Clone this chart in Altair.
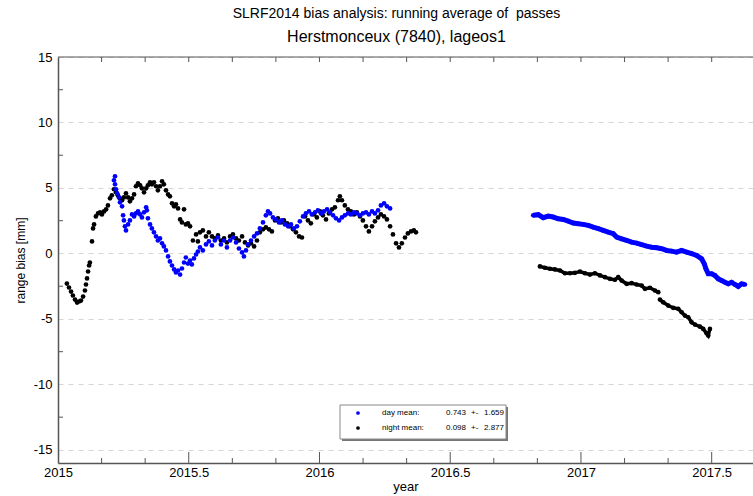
import altair as alt
import pandas as pd

FONT = "Liberation Sans"
AXC = "#555555"

# ---------------- data (decimal year, range bias in mm) ----------------
night_year_1 = [
    2015.034, 2015.042, 2015.050, 2015.057, 2015.065, 2015.073, 2015.080, 2015.088, 2015.096, 2015.103,
    2015.107, 2015.111, 2015.115, 2015.119, 2015.122, 2015.130, 2015.134, 2015.138, 2015.145, 2015.153,
    2015.161, 2015.168, 2015.176, 2015.184, 2015.191, 2015.199, 2015.206, 2015.214, 2015.222, 2015.229,
    2015.237, 2015.245, 2015.252, 2015.260, 2015.268, 2015.275, 2015.283, 2015.291, 2015.298, 2015.306,
    2015.314, 2015.321, 2015.329, 2015.337, 2015.344, 2015.352, 2015.359, 2015.367, 2015.375, 2015.382,
    2015.390, 2015.398, 2015.405, 2015.413, 2015.421, 2015.428, 2015.436, 2015.444, 2015.451, 2015.459,
    2015.467, 2015.474, 2015.482, 2015.489, 2015.497, 2015.505, 2015.516, 2015.528, 2015.535, 2015.543,
    2015.554, 2015.566, 2015.577, 2015.589, 2015.600, 2015.612, 2015.623, 2015.635, 2015.646, 2015.658,
    2015.669, 2015.681, 2015.692, 2015.704, 2015.715, 2015.727, 2015.738, 2015.750, 2015.761, 2015.772,
    2015.784, 2015.795, 2015.807, 2015.818, 2015.830, 2015.841, 2015.853, 2015.864, 2015.876, 2015.887,
    2015.899, 2015.910, 2015.922, 2015.933, 2015.945, 2015.956, 2015.967, 2015.979, 2015.990, 2016.002,
    2016.013, 2016.025, 2016.036, 2016.048, 2016.059, 2016.071, 2016.078, 2016.086, 2016.097, 2016.109,
    2016.120, 2016.132, 2016.143, 2016.155, 2016.166, 2016.178, 2016.189, 2016.201, 2016.212, 2016.224,
    2016.235, 2016.247, 2016.258, 2016.270, 2016.281, 2016.293, 2016.304, 2016.315, 2016.327, 2016.338,
    2016.350, 2016.361, 2016.369,
]
night_bias_1 = [
    -2.30, -2.60, -2.91, -3.21, -3.52, -3.75, -3.67, -3.60, -3.29, -2.83,
    -2.37, -1.91, -1.38, -0.92, -0.69, 0.92, 1.91, 2.22, 2.83, 3.06,
    3.14, 2.98, 3.21, 3.37, 3.67, 4.21, 4.44, 4.90, 4.67, 4.44,
    4.21, 4.06, 4.28, 4.59, 4.28, 3.98, 4.21, 4.51, 5.13, 5.36,
    5.20, 4.97, 4.67, 4.97, 5.20, 5.43, 5.28, 5.43, 5.13, 4.82,
    5.13, 5.51, 5.28, 4.82, 4.51, 4.36, 3.83, 3.60, 3.75, 3.44,
    2.60, 2.37, 3.37, 2.22, 2.30, 2.07, 0.99, 1.45, 0.92, 1.61,
    1.76, 1.30, 1.61, 1.30, 1.15, 1.38, 0.99, 1.15, 0.84, 1.30,
    1.45, 1.15, 0.99, 1.30, 0.84, 0.61, 0.77, 0.54, 0.99, 1.61,
    1.84, 1.99, 1.84, 1.68, 2.52, 2.68, 2.37, 2.52, 2.30, 2.07,
    1.84, 1.61, 1.30, 1.22, 2.83, 2.52, 2.30, 2.98, 2.75, 3.21,
    2.91, 2.60, 3.06, 3.37, 3.52, 4.06, 4.36, 4.06, 3.67, 3.37,
    3.21, 2.98, 3.14, 2.83, 2.52, 2.07, 1.68, 2.07, 2.45, 2.75,
    2.98, 2.83, 2.60, 2.07, 1.45, 0.77, 0.46, 0.77, 1.22, 1.53,
    1.68, 1.76, 1.61,
]
night_year_2 = [
    2016.8432, 2016.8623, 2016.8814, 2016.9005, 2016.9197, 2016.9388, 2016.9579, 2016.9770, 2016.9962,
    2017.0153, 2017.0344, 2017.0535, 2017.0726, 2017.0917, 2017.1109, 2017.1300, 2017.1426, 2017.1556,
    2017.1747, 2017.1938, 2017.2129, 2017.2321, 2017.2447, 2017.2638, 2017.2830, 2017.2956,
]
night_bias_2 = [
    -0.99, -1.09, -1.17, -1.22, -1.30, -1.51, -1.51, -1.48, -1.38,
    -1.51, -1.61, -1.51, -1.68, -1.81, -1.94, -2.01, -1.81, -2.07,
    -2.32, -2.27, -2.37, -2.45, -2.70, -2.62, -2.83, -2.96,
]
night_year_3 = [
    2017.3021, 2017.3147, 2017.3338, 2017.3529, 2017.3721, 2017.3851, 2017.3977, 2017.4103,
    2017.4233, 2017.4359, 2017.4550, 2017.4676, 2017.4806, 2017.4868, 2017.4933,
]
night_bias_3 = [
    -3.52, -3.73, -3.98, -4.15, -4.23, -4.49, -4.74, -4.87,
    -5.26, -5.43, -5.59, -5.76, -6.10, -6.27, -5.76,
]
day_year_1 = [
    2015.214, 2015.218, 2015.218, 2015.222, 2015.226, 2015.233, 2015.237, 2015.245, 2015.249, 2015.252,
    2015.256, 2015.260, 2015.268, 2015.275, 2015.283, 2015.291, 2015.298, 2015.306, 2015.314, 2015.321,
    2015.329, 2015.337, 2015.340, 2015.344, 2015.352, 2015.359, 2015.367, 2015.375, 2015.382, 2015.390,
    2015.398, 2015.405, 2015.413, 2015.421, 2015.428, 2015.436, 2015.444, 2015.451, 2015.459, 2015.467,
    2015.474, 2015.482, 2015.489, 2015.497, 2015.505, 2015.512, 2015.520, 2015.528, 2015.535, 2015.543,
    2015.554, 2015.566, 2015.577, 2015.589, 2015.600, 2015.612, 2015.623, 2015.635, 2015.646, 2015.658,
    2015.669, 2015.681, 2015.692, 2015.704, 2015.711, 2015.719, 2015.727, 2015.738, 2015.750, 2015.761,
    2015.772, 2015.784, 2015.795, 2015.803, 2015.811, 2015.822, 2015.834, 2015.845, 2015.857, 2015.868,
    2015.880, 2015.891, 2015.902, 2015.914, 2015.925, 2015.937, 2015.948, 2015.960, 2015.971, 2015.983,
    2015.994, 2016.006, 2016.017, 2016.029, 2016.040, 2016.052, 2016.063, 2016.075, 2016.086, 2016.097,
    2016.109, 2016.120, 2016.132, 2016.143, 2016.155, 2016.166, 2016.178, 2016.189, 2016.201, 2016.212,
    2016.224, 2016.235, 2016.247, 2016.258, 2016.270,
]
day_bias_1 = [
    5.59, 5.89, 5.28, 4.90, 4.59, 4.28, 3.90, 3.60, 2.91, 2.52,
    2.07, 1.76, 2.22, 2.52, 2.98, 2.83, 3.06, 3.21, 2.98, 2.75,
    3.14, 3.52, 3.29, 2.68, 2.22, 1.91, 1.61, 1.30, 0.99, 1.15,
    0.77, 0.54, 0.23, -0.23, -0.61, -0.92, -1.22, -1.45, -1.30, -1.61,
    -1.15, -0.69, -0.31, -0.77, -0.54, -0.84, -0.38, -0.08, 0.15, 0.46,
    0.23, 0.69, 0.92, 0.61, 0.99, 1.22, 0.69, 0.99, 0.46, 0.99,
    1.22, 0.84, 0.38, 0.08, -0.23, 0.23, 0.69, 0.99, 1.30, 1.53,
    1.91, 2.37, 2.91, 3.21, 3.06, 2.75, 2.60, 2.37, 2.52, 2.22,
    2.07, 2.22, 1.91, 2.07, 2.45, 2.83, 3.06, 3.21, 2.98, 3.14,
    3.29, 3.06, 3.21, 3.37, 3.14, 2.91, 2.68, 2.52, 2.75, 2.91,
    3.06, 2.98, 3.14, 3.06, 2.91, 3.06, 3.14, 2.98, 3.21, 3.06,
    3.29, 3.67, 3.83, 3.60, 3.44,
]
day_year_2 = [
    2016.8176, 2016.8367, 2016.8558, 2016.8749, 2016.8941, 2016.9132, 2016.9323, 2016.9514, 2016.9705, 2016.9897,
    2017.0088, 2017.0279, 2017.0470, 2017.0662, 2017.0853, 2017.1044, 2017.1235, 2017.1365, 2017.1556, 2017.1747,
    2017.1938, 2017.2129, 2017.2321, 2017.2512, 2017.2703, 2017.2894, 2017.3086, 2017.3277, 2017.3468, 2017.3659,
    2017.3850, 2017.4042, 2017.4233, 2017.4424, 2017.4615, 2017.4715, 2017.4780, 2017.4868, 2017.4998, 2017.5124,
    2017.5250, 2017.5380, 2017.5506, 2017.5633, 2017.5762, 2017.5889, 2017.6015, 2017.6145, 2017.6271,
]
day_bias_2 = [
    2.91, 2.96, 2.73, 2.85, 2.78, 2.65, 2.60, 2.47, 2.32, 2.27,
    2.22, 2.14, 2.01, 1.89, 1.76, 1.63, 1.51, 1.25, 1.12, 0.99,
    0.86, 0.79, 0.67, 0.56, 0.48, 0.44, 0.36, 0.23, 0.18, 0.10,
    0.23, 0.10, -0.02, -0.15, -0.41, -0.79, -1.17, -1.55, -1.55, -1.68,
    -1.94, -2.07, -2.20, -2.32, -2.20, -2.37, -2.52, -2.32, -2.37,
]

# axis values / ticks
x_label_values = [2015, 2015.5, 2016, 2016.5, 2017, 2017.5]
x_minor_ticks = [2015.1667, 2015.3333, 2015.6667, 2015.8333, 2016.1667, 2016.3333,
                 2016.6667, 2016.8333, 2017.1667, 2017.3333]
x_major_ticks = [2015.5, 2016, 2016.5, 2017, 2017.5]
x_top_ticks = x_minor_ticks + x_major_ticks
y_label_values = [-15, -10, -5, 0, 5, 10, 15]
y_minor_ticks = [-12.5, -7.5, -2.5, 2.5, 7.5, 12.5]
x_min, x_max = 2015, 2017.658
y_min, y_max = -16, 15

# legend text
legend_labels = ["day mean:", "night mean:"]
legend_means = ["0.743", "0.098"]
legend_stds = ["1.659", "2.877"]
legend_colors = ["#0000ff", "#000000"]

title_main = "SLRF2014 bias analysis: running average of \u00a0passes"
title_sub = "Herstmonceux (7840), lageos1"

# ---------------- build ----------------
def frame(years, bias, series, run):
    return pd.DataFrame({"year": years, "bias": bias, "series": series, "run": run})

pts = pd.concat([
    frame(night_year_1, night_bias_1, "night", "n1"),
    frame(night_year_2, night_bias_2, "night", "n2"),
    frame(night_year_3, night_bias_3, "night", "n3"),
    frame(day_year_1, day_bias_1, "day", "d1"),
    frame(day_year_2, day_bias_2, "day", "d2"),
], ignore_index=True)

W, H = 695, 406
xs = alt.Scale(domain=[x_min, x_max], nice=False, zero=False)
ys = alt.Scale(domain=[y_min, y_max], nice=False, zero=False)

x_axis = alt.Axis(
    values=x_label_values, format="~g", ticks=False, tickSize=0, grid=False,
    labelPadding=3, labelFontSize=13, labelFont=FONT, labelColor="black",
    labelFlush=False, labelOverlap=False,
    title="year", titleFontSize=13, titleFont=FONT, titleFontWeight="normal",
    titleColor="black", titlePadding=1, domainColor=AXC, domainWidth=1.5)
y_axis = alt.Axis(
    values=y_label_values, labelExpr="datum.value + ''", ticks=False, tickSize=0,
    grid=True, gridDash=[5, 5], gridColor="#d6d6d6",
    labelPadding=6, labelFontSize=13, labelFont=FONT, labelColor="black",
    labelFlush=False, labelOverlap=False,
    title="range bias [mm]", titleFontSize=12, titleFont=FONT,
    titleFontWeight="normal", titleColor="black", titlePadding=6,
    domainColor=AXC, domainWidth=1.5)

# every layer uses the same encodings, so the shared axes merge cleanly
xq = alt.X("year:Q", scale=xs, axis=x_axis)
yq = alt.Y("bias:Q", scale=ys, axis=y_axis)

color = alt.Color("series:N", scale=alt.Scale(domain=["night", "day"],
                                              range=["#000000", "#0000ff"]), legend=None)

base = alt.Chart(pts)
points = base.mark_circle(size=22, opacity=1).encode(x=xq, y=yq, color=color)
night_line = base.transform_filter("datum.run == 'n2' || datum.run == 'n3'").mark_line(
    strokeWidth=3.5, color="#000000").encode(x=xq, y=yq, detail="run:N")
day_line = base.transform_filter("datum.run == 'd2'").mark_line(
    strokeWidth=5, color="#0000ff").encode(x=xq, y=yq, detail="run:N")

def tick_layer(values, orient, size, anchor):
    n = len(values)
    df = pd.DataFrame({"year": values if orient == "vertical" else [anchor] * n,
                       "bias": [anchor] * n if orient == "vertical" else values})
    return alt.Chart(df).mark_tick(orient=orient, size=size, thickness=1, color=AXC,
                                   clip=True, opacity=1).encode(x=xq, y=yq)

bottom_minor = tick_layer(x_minor_ticks, "vertical", 10, y_min)
bottom_major = tick_layer(x_major_ticks, "vertical", 22, y_min)
top_ticks = tick_layer(x_top_ticks, "vertical", 10, y_max)
left_ticks = tick_layer(y_minor_ticks, "horizontal", 10, x_min)

border_df = pd.DataFrame({"year": [x_min], "year2": [x_max], "bias": [y_max]})
top_border = alt.Chart(border_df).mark_rule(color=AXC, strokeWidth=1).encode(
    x=xq, x2="year2:Q", y=yq)

# legend box (positioned in pixels inside the plot area)
one = pd.DataFrame({"a": [0]})
lg_shadow = alt.Chart(one).mark_rect(color="#777777").encode(
    x=alt.value(284), x2=alt.value(450), y=alt.value(350), y2=alt.value(384))
lg_box = alt.Chart(one).mark_rect(color="white", stroke="#888888", strokeWidth=1).encode(
    x=alt.value(282), x2=alt.value(448), y=alt.value(348), y2=alt.value(382))

legend_layers = [lg_shadow, lg_box]
for i in range(2):
    yy = 356 + 15 * i
    legend_layers.append(alt.Chart(one).mark_point(
        filled=True, size=14, shape="circle", color=legend_colors[i], opacity=1
    ).encode(x=alt.value(300), y=alt.value(yy)))
    for txt, xx, al in [(legend_labels[i], 324, "left"), (legend_means[i], 408, "right"),
                        ("+-", 413, "left"), (legend_stds[i], 446, "right")]:
        legend_layers.append(alt.Chart(one).mark_text(
            text=txt, align=al, baseline="middle", fontSize=8, font=FONT, color="black"
        ).encode(x=alt.value(xx), y=alt.value(yy)))

chart = alt.layer(
    points, night_line, day_line,
    bottom_minor, bottom_major, top_ticks, left_ticks, top_border,
    *legend_layers
).properties(
    width=W, height=H,
    autosize=alt.AutoSizeParams(type="none"),
    padding={"left": 58, "top": 57, "right": 0, "bottom": 33},
    title=alt.TitleParams(
        text=title_main, subtitle=title_sub, anchor="middle",
        font=FONT, fontSize=14, fontWeight="normal", color="black",
        subtitleFont=FONT, subtitleFontSize=16, subtitleColor="black",
        subtitlePadding=8, offset=6, dx=-9),
).configure_view(stroke=None)

chart.save("out.html", embed_options={"renderer": "svg", "actions": False})
